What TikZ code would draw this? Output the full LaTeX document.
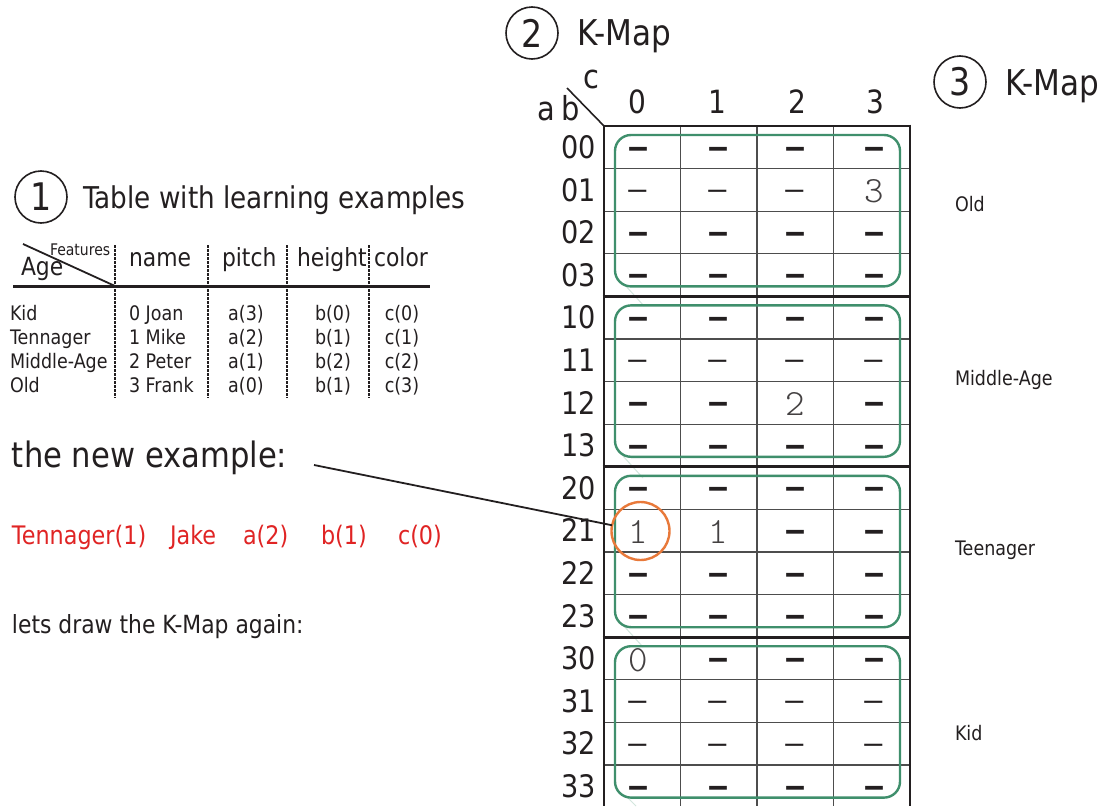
\documentclass[tikz,border=0pt]{standalone}
\usepackage{fontspec}
\setmainfont{DejaVu Sans}[FakeStretch=0.875]
\newfontfamily\dashfont{DejaVu Sans}[FakeStretch=1.5]
\newfontfamily\celldigit{lmmonolt10-regular}[Extension=.otf]
\usetikzlibrary{calc}
\definecolor{ink}{HTML}{231F20}
\definecolor{grpgreen}{HTML}{3F8F6C}
\definecolor{hitorange}{HTML}{E8793A}
\definecolor{newred}{HTML}{E02424}
\definecolor{gridgray}{HTML}{4D4D4D}
\definecolor{faintgreen}{HTML}{D3E6DD}
\newcommand{\fs}[1]{\fontsize{#1}{#1}\selectfont}
\tikzset{
  every node/.style={inner sep=0pt, outer sep=0pt, text=ink},
  numcirc/.style={circle, draw=ink, line width=1.6pt, minimum size=52pt, font=\fs{38}},
  bigtitle/.style={anchor=base west, font=\fs{35.5}},
  tabtitle/.style={anchor=base west, font=\fs{30}},
  colhead/.style={anchor=base west, font=\fs{25}},
  rowtxt/.style={anchor=base west, font=\fs{20}},
  valtxt/.style={anchor=base, font=\fs{20}},
  newtxt/.style={anchor=base west, font=\fs{25.5}, text=newred},
  maplab/.style={font=\fs{32}},
  rowlab/.style={anchor=base east, font=\fs{31}},
  sidelab/.style={anchor=base west, font=\fs{20}},
  tabsep/.style={draw=ink, line width=1.3pt, dash pattern=on 2.5pt off 1.5pt},
  gridline/.style={draw=gridgray, line width=1.3pt},
  gridthick/.style={draw=ink, line width=2.8pt},
  grpbox/.style={draw=grpgreen, line width=2.4pt, rounded corners=16pt},
  hitcirc/.style={circle, draw=hitorange, line width=2.4pt, minimum size=58pt},
  link/.style={draw=ink, line width=1.8pt},
  faint/.style={draw=faintgreen, line width=1pt},
  cellT/.style={anchor=base, yshift=-8.2pt, font=\dashfont\bfseries\fs{30}, node contents={–}},
  cellt/.style={anchor=base, yshift=-8.0pt, font=\dashfont\fs{30}, node contents={–}},
  cell0/.style={font=\celldigit\fs{37}, text=ink!85, node contents={0}},
  cell1/.style={font=\celldigit\fs{37}, text=ink!85, node contents={1}},
  cell2/.style={font=\celldigit\fs{37}, text=ink!85, node contents={2}},
  cell3/.style={font=\celldigit\fs{37}, text=ink!85, node contents={3}},
}
\begin{document}
\begin{tikzpicture}[x=1pt, y=-1pt]
\useasboundingbox (0,0) rectangle (1103,806);
\fill[white] (0,0) rectangle (1103,806);

% ---------- 1: table of learning examples ----------
\node[numcirc] (c1) at (41,197) {1};
\node[tabtitle] (t1) at (83,208) {Table with learning examples};

\node[anchor=base west, font=\fs{25}] (age) at (21,275) {Age};
\node[anchor=base west, font=\fs{16}] (feat) at (50,255) {Features};
\coordinate (dgA) at (23,244);
\coordinate (dgB) at (115,286);
\draw[ink, line width=1.8pt] (dgA) -- (dgB);
\coordinate (hlA) at (13,286);
\coordinate (hlB) at (430,286);
\draw[ink, line width=3pt] (hlA) -- (hlB);

\foreach \x/\n in {115/s1, 208/s2, 287/s3, 369/s4}{
  \coordinate (\n t) at (\x,245);
  \coordinate (\n b) at (\x,398);
  \draw[tabsep] (\n t) -- (\n b);
}

\node[colhead] (hname) at (129,266) {name};
\node[colhead] (hpitch) at (222,266) {pitch};
\node[colhead] (hheight) at (297,266) {height};
\node[colhead] (hcolor) at (374,266) {color};

\foreach \k/\lab/\nm/\pa/\pb/\pc/\y in {
  0/Kid/0 Joan/a(3)/b(0)/c(0)/320,
  1/Tennager/1 Mike/a(2)/b(1)/c(1)/344,
  2/Middle-Age/2 Peter/a(1)/b(2)/c(2)/368,
  3/Old/3 Frank/a(0)/b(1)/c(3)/392}{
  \node[rowtxt] (age\k) at (10,\y) {\lab};
  \node[rowtxt] (name\k) at (129,\y) {\nm};
  \node[valtxt] (pa\k) at (246,\y) {\pa};
  \node[valtxt] (pb\k) at (333,\y) {\pb};
  \node[valtxt] (pc\k) at (402,\y) {\pc};
}

% ---------- the new example ----------
\node[anchor=base west, font=\fs{35}] (newex) at (12,467) {the new example:};
\node[newtxt] (nage) at (12,544) {Tennager(1)};
\node[newtxt] (nname) at (170,544) {Jake};
\node[newtxt] (npa) at (243,544) {a(2)};
\node[newtxt] (npb) at (321,544) {b(1)};
\node[newtxt] (npc) at (398,544) {c(0)};
\node[anchor=base west, font=\fs{25}] (again) at (12,633) {lets draw the K-Map again:};

% ---------- 2: K-map ----------
\node[numcirc] (c2) at (532,33) {2};
\node[bigtitle] (t2) at (577,45) {K-Map};
\node[numcirc] (c3) at (960,82) {3};
\node[bigtitle] (t3) at (1005,95) {K-Map};

\node[anchor=base west, font=\fs{33}] (lab) at (537,120) {a\kern7pt b};
\node[anchor=base west, font=\fs{33}] (lc) at (583,88) {c};
\coordinate (kdA) at (567,88);
\coordinate (kdB) at (604,126);
\draw[ink, line width=1.6pt] (kdA) -- (kdB);

\foreach \j/\x in {0/637.5, 1/717, 2/797, 3/875}
  \node[maplab, anchor=base] (col\j) at (\x,113) {\j};

% faint traces across the group borders
\draw[faint] (624,284) -- (644,306);
\draw[faint] (623,456) -- (643,478);
\draw[faint] (623,625) -- (643,647);
\draw[faint] (627,797) -- (636,806);

% grid lines
\foreach \k in {1,2,3,5,6,7,9,10,11,13,14,15}
  \draw[gridline] (604,126+42.6*\k) -- (910,126+42.6*\k);
\foreach \x in {680.5,757,833.5}
  \draw[gridline] (\x,126) -- (\x,806);
\foreach \k in {0,4,8,12}
  \draw[gridthick] (602.6,126+42.6*\k) -- (911.4,126+42.6*\k);
\draw[gridthick] (604,124.6) -- (604,806);
\draw[gridthick] (910,124.6) -- (910,806);

% groups of four rows
\foreach \g in {0,1,2,3}
  \draw[grpbox] (615,126+170.4*\g+9) rectangle (900,126+170.4*\g+160.4);

% row labels
\foreach \k/\r in {0/00,1/01,2/02,3/03,4/10,5/11,6/12,7/13,8/20,9/21,10/22,11/23,12/30,13/31,14/32,15/33}
  \node[rowlab] (row\k) at (596,126+42.6*\k+21.3+11.2) {\r};

% cell entries
\foreach \k/\ca/\cb/\cc/\cd in {
  0/T/T/T/T, 1/t/t/t/3, 2/T/T/T/T, 3/T/T/T/T,
  4/T/T/T/T, 5/t/t/t/t, 6/T/T/2/T, 7/T/T/T/T,
  8/T/T/T/T, 9/1/1/T/T, 10/T/T/T/T, 11/T/T/T/T,
  12/0/T/T/T, 13/t/t/t/t, 14/t/t/t/t, 15/T/T/T/T}{
  \foreach \j/\v/\x in {0/\ca/638, 1/\cb/718, 2/\cc/795, 3/\cd/874}{
    \node[at={(\x,126+42.6*\k+21.3+1.5)}, name=cell-\k-\j, cell\v];
  }
}

% the new example lands in cell 21/0
\node[hitcirc] (hit) at (640.5,531) {};
\coordinate (lnstart) at (314,465);
\draw[link] (lnstart) -- (hit);

% ---------- 3: class of each group ----------
\node[sidelab] (sOld) at (955,211) {Old};
\node[sidelab] (sMid) at (955,385) {Middle-Age};
\node[sidelab] (sTeen) at (955,555) {Teenager};
\node[sidelab] (sKid) at (955,740) {Kid};
\end{tikzpicture}
\end{document}
